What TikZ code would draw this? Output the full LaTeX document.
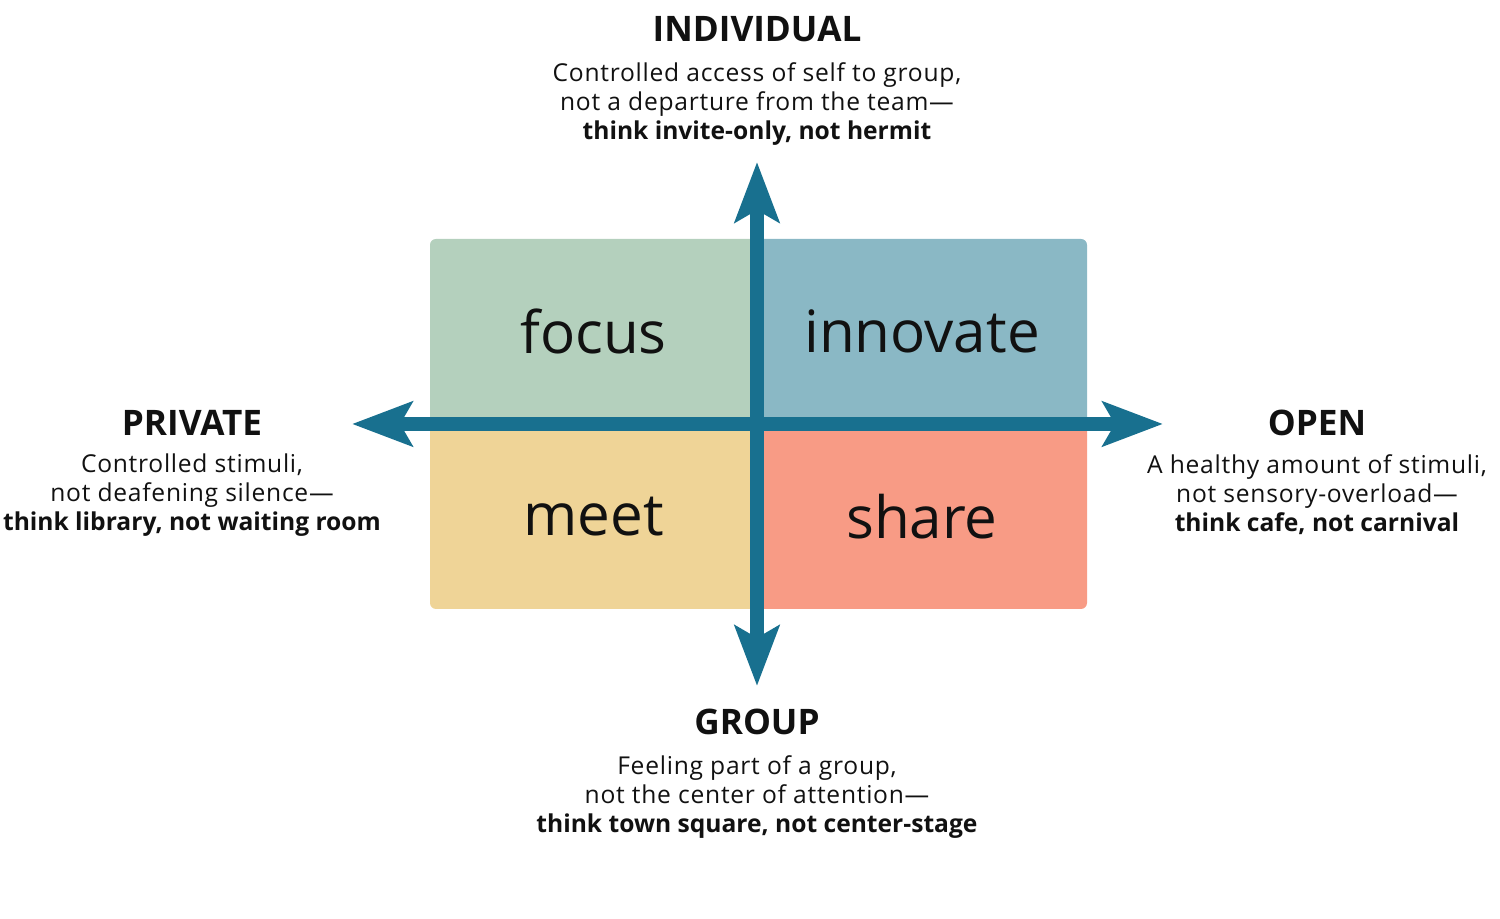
\documentclass[tikz,border=0pt]{standalone}
\usepackage{fontspec}
\setmainfont{Open Sans}[UprightFeatures={LetterSpace=3}]
\newfontfamily\quadfont{Open Sans}
\usepackage{tikz}
\usetikzlibrary{arrows.meta}
\definecolor{AxisBlue}{HTML}{18708F}
\definecolor{FocusGreen}{HTML}{B4D0BD}
\definecolor{InnovateBlue}{HTML}{8AB8C5}
\definecolor{MeetSand}{HTML}{EFD497}
\definecolor{ShareCoral}{HTML}{F89B85}
\definecolor{Ink}{HTML}{111111}

\tikzset{
  quad/.style={rounded corners=0.06cm,inner sep=0pt,minimum height=1.85cm,
    font=\quadfont\fontsize{16.6}{19}\selectfont,text=Ink},
  axis/.style={line width=0.14cm,color=AxisBlue,
    {Stealth[length=0.6cm,width=0.44cm,inset=0.12cm]}-{Stealth[length=0.6cm,width=0.44cm,inset=0.12cm]}},
  heading/.style={font=\bfseries\fontsize{10}{12}\selectfont,text=Ink,inner sep=0pt},
  blurb/.style={align=center,font=\fontsize{7}{8.25}\selectfont,text=Ink,inner sep=0pt}
}

\begin{document}
\begin{tikzpicture}
  \useasboundingbox (0,0) rectangle (15,9.19);
  % quadrants
  \node[quad,fill=FocusGreen,minimum width=3.27cm] (focus) at (5.935,5.875) {focus};
  \node[quad,fill=InnovateBlue,minimum width=3.30cm] (innovate) at (9.22,5.875) {innovate};
  \node[quad,fill=MeetSand,minimum width=3.27cm] (meet) at (5.935,4.025) {meet};
  \node[quad,fill=ShareCoral,minimum width=3.30cm] (share) at (9.22,4.025) {share};
  % axes
  \coordinate (top) at (7.57,7.57);
  \coordinate (bottom) at (7.57,2.33);
  \coordinate (left) at (3.52,4.95);
  \coordinate (right) at (11.63,4.95);
  \draw[axis] (left) -- (right);
  \draw[axis] (bottom) -- (top);
  % labels
  \node[heading] (individual) at (7.57,8.90) {INDIVIDUAL};
  \node[blurb] (individualtxt) at (7.57,8.15) {Controlled access of self to group,\\ not a departure from the team---\\ \textbf{think invite-only, not hermit}};
  \node[heading] (private) at (1.92,4.96) {PRIVATE};
  \node[blurb] (privatetxt) at (1.92,4.24) {Controlled stimuli,\\ not deafening silence---\\ \textbf{think library, not waiting room}};
  \node[heading] (open) at (13.17,4.96) {OPEN};
  \node[blurb] (opentxt) at (13.17,4.24) {A healthy amount of stimuli,\\ not sensory-overload---\\ \textbf{think cafe, not carnival}};
  \node[heading] (group) at (7.57,1.97) {GROUP};
  \node[blurb] (grouptxt) at (7.57,1.22) {Feeling part of a group,\\ not the center of attention---\\ \textbf{think town square, not center-stage}};
\end{tikzpicture}
\end{document}
